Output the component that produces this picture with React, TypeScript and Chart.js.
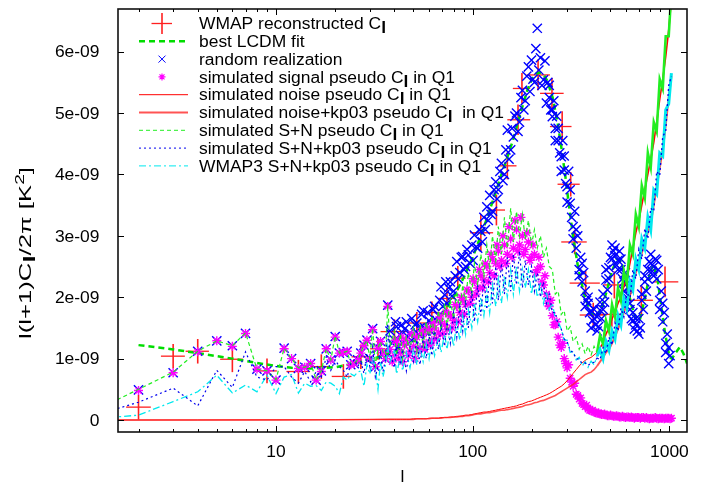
import React, { useEffect, useRef } from 'react';
import { Chart, registerables } from 'chart.js';

Chart.register(...registerables);

// ---------- axis ranges (y in units of 1e-9 K^2) ----------
const X_MIN = 1.573;
const X_MAX = 1229;
const Y_MIN = -0.195;
const Y_MAX = 6.694;
const Y_TICKS = [0, 1, 2, 3, 4, 5, 6];
const Y_TICK_LABELS = ['0', '1e-09', '2e-09', '3e-09', '4e-09', '5e-09', '6e-09'];
const X_TICKS = [10, 100, 1000];
const X_TICK_LABELS = ['10', '100', '1000'];

// ---------- WMAP reconstructed C_l (binned, with error bars) ----------
const WMAP_L = [2, 3, 4, 6, 9, 13, 17, 22, 27, 33, 40, 52, 62, 74, 84, 110, 132, 150, 170, 178, 215, 253, 285, 315, 330, 375, 410, 510, 525, 720, 950];
const WMAP_LO = [1.73, 2.6, 3.47, 5.2, 8, 11.3, 15, 19.2, 24.2, 30.1, 34, 46, 56, 67, 77, 97, 120, 135, 150, 160, 188, 220, 247, 270, 282, 311, 350, 443, 460, 630, 825];
const WMAP_HI = [2.31, 3.44, 4.56, 6.8, 10.1, 14.9, 18.8, 24.2, 30.1, 36, 46, 60, 68, 82, 92, 127, 146, 167, 196, 196, 247, 290, 318, 350, 380, 443, 480, 582, 600, 825, 1110];
const WMAP_VAL = [0.21, 1.04, 1.12, 0.99, 0.80, 0.79, 0.87, 0.71, 1.03, 1.16, 1.44, 1.58, 1.75, 1.98, 2.31, 3.05, 3.42, 4.14, 4.89, 5.40, 5.62, 5.32, 4.78, 3.84, 2.90, 2.23, 1.71, 1.72, 2.20, 1.95, 2.25];
const WMAP_ERR = [0.20, 0.20, 0.20, 0.21, 0.20, 0.19, 0.20, 0.20, 0.20, 0.18, 0.20, 0.18, 0.18, 0.18, 0.20, 0.30, 0.25, 0.22, 0.25, 0.25, 0.25, 0.25, 0.25, 0.20, 0.20, 0.20, 0.20, 0.20, 0.22, 0.25, 0.25];

// ---------- best LCDM fit ----------
const L_CDM = [2, 3, 4, 5, 6, 8, 10, 12, 15, 20, 25, 30, 35, 40, 50, 60, 70, 80, 90, 100, 110, 120, 130, 140, 150, 160, 175, 190, 200, 210, 220, 230, 240, 255, 270, 280, 295, 310, 325, 345, 370, 400, 420, 450, 480, 510, 540, 570, 600, 640, 680, 710, 750, 800, 830, 870, 910, 950, 1000, 1030, 1080, 1130, 1180, 1230];
const CDM = [1.22, 1.15, 1.09, 1.04, 1.00, 0.93, 0.88, 0.85, 0.84, 0.86, 0.92, 0.98, 1.05, 1.12, 1.28, 1.48, 1.72, 2.00, 2.32, 2.65, 3.00, 3.35, 3.68, 4.00, 4.28, 4.55, 5.00, 5.38, 5.55, 5.64, 5.66, 5.62, 5.52, 5.25, 4.85, 4.52, 4.00, 3.45, 2.95, 2.45, 2.03, 1.74, 1.68, 1.80, 2.10, 2.42, 2.62, 2.58, 2.30, 1.88, 1.62, 1.65, 1.98, 2.42, 2.52, 2.30, 1.85, 1.42, 1.03, 1.00, 1.10, 1.19, 1.08, 0.92];

// ---------- low multipoles l = 1..37 ----------
const L_LOW = [1, 2, 3, 4, 5, 6, 7, 8, 9, 10, 11, 12, 13, 14, 15, 16, 17, 18, 19, 20, 21, 22, 23, 24, 25, 26, 27, 28, 29, 30, 31, 32, 33, 34, 35, 36, 37];
const REAL_LOW = [null, 0.49, 0.77, 1.12, 1.29, 1.21, 1.41, 0.83, 0.80, 0.65, 1.17, 1.00, 0.84, 0.86, 0.92, 0.65, 0.80, 1.16, 0.98, 1.36, 1.09, 1.10, 1.12, 0.90, 0.92, 0.98, 1.09, 1.22, 1.30, 1.00, 1.49, 0.87, 1.17, 1.28, 1.10, 1.00, 1.87];
const SIG_LOW = [null, 0.48, 0.77, 1.11, 1.29, 1.20, 1.41, 0.83, 0.80, 0.65, 1.16, 1.00, 0.84, 0.86, 0.92, 0.65, 0.79, 1.16, 0.98, 1.35, 1.09, 1.10, 1.12, 0.90, 0.92, 0.98, 1.09, 1.21, 1.30, 1.00, 1.47, 0.87, 1.17, 1.28, 1.10, 1.00, 1.85];
const SN_LOW = [0.03, 0.50, 0.78, 1.12, 1.29, 1.21, 1.42, 0.83, 0.80, 0.66, 1.17, 1.00, 0.85, 0.86, 0.93, 0.65, 0.80, 1.16, 0.98, 1.37, 1.09, 1.10, 1.12, 0.91, 0.92, 0.98, 1.09, 1.23, 1.30, 1.00, 1.50, 0.88, 1.17, 1.28, 1.11, 1.01, 1.88];
const SNK_LOW = [0.0, 0.29, 0.52, 0.23, 0.81, 0.53, 1.11, 0.70, 0.65, 0.87, 0.87, 0.70, 0.60, 0.79, 0.62, 0.79, 0.70, 1.03, 0.81, 0.98, 0.87, 0.81, 0.70, 0.92, 0.98, 0.87, 0.95, 0.76, 1.09, 0.87, 1.19, 0.70, 0.87, 1.09, 0.79, 0.98, 1.57];
const W3_LOW = [0.0, 0.08, 0.30, 0.46, 0.73, 0.44, 0.57, 0.46, 0.73, 0.43, 0.70, 0.74, 0.44, 0.60, 0.55, 0.56, 0.48, 0.62, 0.60, 0.55, 0.43, 0.70, 0.65, 0.75, 0.72, 0.78, 0.80, 0.55, 0.90, 0.75, 1.00, 0.85, 0.50, 0.95, 0.70, 0.90, 1.20];
const L_NOISE_LOW = [1, 4, 10, 20, 30];
const NOISE_LOW = [0.0, 0.001, 0.003, 0.006, 0.009];
const NOISEK_LOW = [0.0, 0.001, 0.002, 0.005, 0.008];

// ---------- higher multipoles (sampled) ----------
const L_GRID = [38, 40, 41, 43, 44, 46, 48, 50, 52, 54, 56, 58, 60, 62, 64, 67, 69, 72, 74, 77, 80, 83, 86, 89, 92, 95, 99, 102, 106, 110, 114, 118, 122, 126, 131, 135, 140, 145, 150, 156, 161, 167, 173, 179, 185, 192, 199, 206, 213, 221, 229, 237, 245, 254, 263, 272, 282, 292, 302, 313, 324, 336, 348, 360, 373, 386, 400, 414, 429, 444, 460, 476, 493, 511, 529, 548, 567, 587, 608, 630, 652, 675, 699, 724, 750, 777, 804, 833, 862, 893, 925, 958, 992, 1024];
const L_MID = [39, 40.5, 42, 43.5, 45, 47, 49, 51, 53, 55, 57, 59, 61, 63, 65.5, 68, 70.5, 73, 75.5, 78.5, 81.5, 84.5, 87.5, 90.5, 93.5, 97, 100.5, 104, 108, 112, 116, 120, 124, 128.5, 133, 137.5, 142.5, 147.5, 153, 158.5, 164, 170, 176, 182, 188.5, 195.5, 202.5, 209.5, 217, 225, 233, 241, 249.5, 258.5, 267.5, 277, 287, 297, 307.5, 318.5, 330, 342, 354, 366.5, 379.5, 393, 407, 421.5, 436.5, 452, 468, 484.5, 502, 520, 538.5, 557.5, 577, 597.5, 619, 641, 663.5, 687, 711.5, 737, 763.5, 790.5, 818.5, 847.5, 877.5, 909, 941.5, 975, 1008];
const L_HI = [245, 254, 263, 272, 282, 292, 302, 313, 324, 336, 348, 360, 373, 386, 400, 414, 429, 444, 460, 476, 493, 511, 529, 548, 567, 587, 608, 630, 652, 675, 699, 724, 750, 777, 804, 833, 862, 893, 925, 958, 992];
const REAL_A = [1.45, 1.30, 1.52, 1.38, 1.25, 1.60, 1.42, 1.33, 1.58, 1.50,
  1.78, 1.45, 1.62, 1.55, 1.85, 1.70, 2.17, 2.04, 1.90, 2.25,
  2.10, 2.58, 2.40, 2.66, 2.50, 2.69, 2.85, 3.01, 2.80, 3.07,
  3.30, 3.47, 3.66, 3.40, 3.88, 3.75, 4.18, 4.00, 4.72, 4.40,
  4.61, 5.00, 4.85, 5.37, 5.20, 5.75, 5.86, 5.50, 6.38, 5.90,
  5.54, 5.16, 5.45, 4.94, 4.75, 4.55, 4.29, 4.07, 3.80, 3.53,
  3.15, 2.80, 2.45, 2.25, 2.10, 1.90, 1.78, 1.65, 1.68, 1.79,
  2.05, 2.28, 2.48, 2.62, 2.68, 2.60, 2.45, 2.25, 2.00, 1.80,
  1.62, 1.55, 1.65, 1.95, 2.25, 2.45, 2.55, 2.50, 2.30, 1.95,
  1.60, 1.25, 0.92, null];
const REAL_B = [1.25, 1.60, 1.20, 1.55, 1.48, 1.35, 1.65, 1.55, 1.40, 1.72,
  1.50, 1.75, 1.45, 1.80, 1.62, 1.95, 1.85, 2.25, 2.15, 2.02,
  2.35, 2.30, 2.65, 2.45, 2.78, 2.55, 2.60, 2.82, 3.10, 2.90,
  3.10, 3.25, 3.35, 3.75, 3.60, 4.05, 3.90, 4.40, 4.25, 4.75,
  4.95, 4.70, 5.25, 5.05, 5.60, 5.35, 5.55, 6.05, 5.70, 5.45,
  5.85, 5.50, 5.05, 5.20, 4.95, 4.35, 4.55, 3.85, 4.05, 3.30,
  3.40, 3.00, 2.65, 2.40, 1.95, 1.75, 1.62, 1.55, 1.52, 1.65,
  1.92, 2.12, 2.65, 2.75, 2.52, 2.75, 2.30, 2.40, 2.15, 1.65,
  1.48, 1.45, 1.50, 1.80, 2.10, 2.58, 2.42, 2.62, 2.45, 2.10,
  1.75, 1.40, 1.05];
const REAL_C = [5.25, 5.05, 4.55, 4.75, 4.05, 4.30, 3.55, 3.75, 2.95, 3.10,
  2.35, 2.55, 1.85, 2.00, 1.50, 1.80, 1.45, 1.92, 1.80, 2.45,
  2.30, 2.85, 2.80, 2.45, 2.62, 2.10, 2.22, 1.90, 1.75, 1.65,
  1.40, 2.05, 2.35, 2.30, 2.70, 2.35, 2.60, 1.80, 1.90, 1.10,
  1.18];
const SIG_A = [1.15, 1.05, 1.25, 1.10, 0.95, 1.30, 1.12, 1.20, 1.35, 1.18,
  1.40, 1.25, 1.45, 1.30, 1.50, 1.42, 1.60, 1.55, 1.48, 1.70,
  1.62, 1.85, 1.75, 1.95, 1.88, 2.10, 2.00, 2.25, 2.15, 2.35,
  2.28, 2.50, 2.40, 2.62, 2.55, 2.75, 2.60, 2.85, 2.70, 2.95,
  2.80, 3.10, 2.85, 3.00, 2.78, 2.90, 2.65, 2.70, 2.45, 2.50,
  2.20, 2.05, 1.85, 1.70, 1.55, 1.35, 1.18, 1.00, 0.85, 0.68,
  0.55, 0.42, 0.34, 0.27, 0.22, 0.18, 0.15, 0.13, 0.11, 0.10,
  0.09, 0.08, 0.07, 0.07, 0.06, 0.06, 0.05, 0.05, 0.05, 0.04,
  0.04, 0.04, 0.04, 0.04, 0.03, 0.03, 0.03, 0.03, 0.03, 0.03,
  0.03, 0.03, 0.03, 0.03];
const SIG_B = [0.95, 1.30, 1.00, 1.35, 1.22, 1.05, 1.40, 1.00, 1.12, 1.45,
  1.15, 1.50, 1.22, 1.58, 1.32, 1.68, 1.40, 1.75, 1.72, 1.50,
  1.88, 1.60, 2.00, 1.72, 2.12, 1.90, 2.30, 2.05, 2.45, 2.15,
  2.55, 2.25, 2.70, 2.35, 2.85, 2.50, 3.00, 2.55, 3.15, 2.65,
  3.25, 2.75, 3.30, 2.70, 3.05, 2.60, 2.85, 2.40, 2.65, 2.25,
  2.35, 1.90, 1.95, 1.55, 1.60, 1.22, 1.25, 0.92, 0.90, 0.62,
  0.60, 0.40, 0.36, 0.25, 0.24, 0.16, 0.16, 0.12, 0.12, 0.09,
  0.10, 0.07, 0.08, 0.06, 0.07, 0.05, 0.06, 0.04, 0.05, 0.05,
  0.03, 0.04, 0.03, 0.04, 0.04, 0.02, 0.03, 0.04, 0.02, 0.03,
  0.02, 0.03, 0.02];
const NOISE = [0.01, 0.01, 0.01, 0.01, 0.01, 0.01, 0.01, 0.02, 0.02, 0.02,
  0.02, 0.02, 0.03, 0.03, 0.03, 0.03, 0.04, 0.04, 0.04, 0.05,
  0.05, 0.06, 0.06, 0.07, 0.08, 0.08, 0.09, 0.10, 0.11, 0.12,
  0.13, 0.13, 0.14, 0.15, 0.16, 0.17, 0.18, 0.19, 0.20, 0.21,
  0.22, 0.23, 0.25, 0.26, 0.28, 0.30, 0.31, 0.33, 0.35, 0.37,
  0.39, 0.41, 0.43, 0.46, 0.49, 0.52, 0.55, 0.59, 0.64, 0.70,
  0.76, 0.82, 0.88, 0.93, 0.97, 1.00, 1.02, 1.06, 1.10, 1.18,
  1.25, 1.40, 1.50, 1.65, 1.75, 1.90, 2.00, 2.18, 2.30, 2.55,
  2.80, 3.05, 3.25, 3.50, 3.75, 4.00, 4.25, 4.52, 4.85, 5.22,
  5.55, 5.92, 6.35, 6.85];
const NOISEK = [0.01, 0.01, 0.01, 0.01, 0.01, 0.01, 0.01, 0.01, 0.02, 0.02,
  0.02, 0.02, 0.02, 0.03, 0.03, 0.03, 0.03, 0.04, 0.04, 0.04,
  0.05, 0.05, 0.06, 0.06, 0.07, 0.07, 0.08, 0.09, 0.10, 0.10,
  0.11, 0.12, 0.12, 0.13, 0.14, 0.15, 0.16, 0.16, 0.17, 0.18,
  0.19, 0.20, 0.21, 0.22, 0.24, 0.25, 0.26, 0.28, 0.29, 0.31,
  0.32, 0.34, 0.36, 0.38, 0.40, 0.43, 0.46, 0.49, 0.52, 0.55,
  0.58, 0.62, 0.66, 0.70, 0.74, 0.76, 0.78, 0.82, 0.88, 0.95,
  1.02, 1.10, 1.15, 1.25, 1.36, 1.48, 1.62, 1.75, 1.90, 2.02,
  2.22, 2.40, 2.55, 2.72, 2.90, 3.05, 3.20, 3.50, 3.80, 4.10,
  4.40, 4.80, 5.25, 5.60];
const SN = [1.20, 1.45, 1.05, 1.40, 1.00, 1.35, 1.15, 1.50, 1.10, 1.55,
  1.20, 1.60, 1.30, 1.70, 1.35, 1.78, 1.45, 1.90, 1.50, 1.95,
  1.65, 2.10, 1.75, 2.20, 1.90, 2.40, 2.05, 2.55, 2.20, 2.70,
  2.35, 2.85, 2.45, 3.00, 2.60, 3.15, 2.70, 3.30, 2.80, 3.45,
  2.90, 3.40, 3.00, 3.35, 2.95, 3.25, 2.85, 3.10, 2.80, 3.00,
  2.65, 2.80, 2.50, 2.45, 2.05, 2.10, 1.72, 1.78, 1.45, 1.52,
  1.28, 1.35, 1.15, 1.24, 1.08, 1.20, 1.06, 1.20, 1.10, 1.38,
  1.24, 1.62, 1.45, 1.88, 1.68, 2.15, 1.95, 2.42, 2.22, 2.85,
  2.70, 3.35, 3.15, 3.82, 3.62, 4.35, 4.12, 4.85, 4.70, 5.55,
  5.40, 6.25, 6.25, 7.00];
const SNK = [1.10, 0.85, 1.20, 0.90, 1.15, 0.80, 1.20, 0.95, 1.30, 0.90,
  1.35, 1.00, 1.40, 1.05, 1.45, 1.15, 1.55, 1.20, 1.60, 1.25,
  1.75, 1.35, 1.85, 1.45, 1.95, 1.50, 2.10, 1.60, 2.20, 1.70,
  2.30, 1.80, 2.40, 1.90, 2.50, 1.95, 2.55, 2.05, 2.65, 2.10,
  2.70, 2.20, 2.75, 2.15, 2.60, 2.20, 2.50, 2.10, 2.40, 2.00,
  2.25, 1.90, 2.05, 1.75, 1.75, 1.55, 1.48, 1.32, 1.28, 1.13,
  1.10, 1.00, 0.99, 0.92, 0.93, 0.89, 0.93, 0.94, 1.01, 0.98,
  1.18, 1.08, 1.35, 1.22, 1.58, 1.45, 1.82, 1.68, 2.10, 1.95,
  2.45, 2.30, 2.78, 2.62, 3.12, 2.95, 3.45, 3.40, 4.05, 3.98,
  4.62, 4.70, 5.45, 5.60];
const W3 = [0.95, 1.15, 0.75, 1.05, 0.80, 1.10, 0.85, 1.15, 0.90, 1.20,
  0.95, 1.25, 1.00, 1.30, 1.05, 1.35, 1.10, 1.40, 1.15, 1.50,
  1.20, 1.60, 1.30, 1.70, 1.40, 1.80, 1.50, 1.90, 1.60, 2.00,
  1.70, 2.10, 1.75, 2.20, 1.85, 2.30, 1.90, 2.35, 2.00, 2.45,
  2.05, 2.50, 2.10, 2.45, 2.15, 2.45, 2.05, 2.35, 2.00, 2.25,
  1.90, 2.10, 1.80, 1.90, 1.65, 1.60, 1.48, 1.30, 1.30, 1.10,
  1.12, 0.98, 1.02, 0.88, 0.95, 0.86, 0.96, 0.90, 1.04, 1.15,
  1.00, 1.28, 1.14, 1.45, 1.32, 1.70, 1.55, 1.98, 1.82, 2.25,
  2.12, 2.62, 2.45, 2.95, 2.80, 3.30, 3.10, 3.75, 3.68, 4.35,
  4.30, 5.05, 5.15, 5.65];

// ---------- text ----------
type Part = { t: string; k?: 'sub' | 'sup' };
const LEGEND_LABELS: Part[][] = [
  [{ t: 'WMAP reconstructed C' }, { t: 'l', k: 'sub' }],
  [{ t: 'best LCDM fit' }],
  [{ t: 'random realization' }],
  [{ t: 'simulated signal pseudo C' }, { t: 'l', k: 'sub' }, { t: ' in Q1' }],
  [{ t: 'simulated noise pseudo C' }, { t: 'l', k: 'sub' }, { t: ' in Q1' }],
  [{ t: 'simulated noise+kp03 pseudo C' }, { t: 'l', k: 'sub' }, { t: '  in Q1' }],
  [{ t: 'simulated S+N pseudo C' }, { t: 'l', k: 'sub' }, { t: ' in Q1' }],
  [{ t: 'simulated S+N+kp03 pseudo C' }, { t: 'l', k: 'sub' }, { t: ' in Q1' }],
  [{ t: 'WMAP3 S+N+kp03 pseudo C' }, { t: 'l', k: 'sub' }, { t: ' in Q1' }],
];
const Y_TITLE: Part[] = [{ t: 'l(l+1)C' }, { t: 'l', k: 'sub' }, { t: '/2\u03c0 [K' }, { t: '2', k: 'sup' }, { t: ']' }];
const X_TITLE = 'l';

// ---------- styles ----------
const FONT = "'Liberation Sans', Arial, Helvetica, sans-serif";
const FS = 16;
const SX = 1.09;
const C_WMAP = '#ff2020';
const C_CDM = '#00dd00';
const C_REAL = '#0000ff';
const C_SIG = '#ff00ff';
const C_NOISE = '#ff0000';
const C_NOISEK = 'rgba(255,40,40,0.8)';
const C_SN = '#22ee22';
const C_SNK = '#0000ee';
const C_W3 = '#00e8ee';
const DASH_CDM = [6, 4];
const DASH_SN = [4, 3];
const DASH_SNK = [2, 3];
const DASH_W3 = [7, 3, 2, 3];

function pts(ls: number[], vs: (number | null)[]) {
  const out: { x: number; y: number }[] = [];
  ls.forEach((l, i) => {
    const v = vs[i];
    if (v !== null && v !== undefined) out.push({ x: l, y: v });
  });
  return out;
}

function partFont(p: Part, size: number) {
  if (p.k === 'sub') return `bold ${size}px ${FONT}`;
  if (p.k === 'sup') return `${Math.round(size * 0.72)}px ${FONT}`;
  return `${size}px ${FONT}`;
}
function measureRich(ctx: CanvasRenderingContext2D, parts: Part[], size: number) {
  let w = 0;
  for (const p of parts) {
    ctx.font = partFont(p, size);
    w += ctx.measureText(p.t).width;
  }
  return w;
}
function drawRich(ctx: CanvasRenderingContext2D, parts: Part[], x: number, y: number, size: number, align: string, sx: number) {
  const total = measureRich(ctx, parts, size) * sx;
  let cx = align === 'left' ? x : align === 'right' ? x - total : x - total / 2;
  ctx.textAlign = 'left';
  ctx.textBaseline = 'alphabetic';
  for (const p of parts) {
    ctx.font = partFont(p, size);
    const w = ctx.measureText(p.t).width * sx;
    const dy = p.k === 'sub' ? 4 : p.k === 'sup' ? -7 : 0;
    ctx.save();
    ctx.translate(cx, y + dy);
    ctx.scale(sx, 1);
    ctx.fillText(p.t, 0, 0);
    ctx.restore();
    cx += w;
  }
}

const errorBarsPlugin = {
  id: 'wmapErrorBars',
  beforeDatasetsDraw(chart: any) {
    const { ctx, chartArea } = chart;
    const xs = chart.scales.x;
    const ys = chart.scales.y;
    ctx.save();
    ctx.beginPath();
    ctx.rect(chartArea.left, chartArea.top, chartArea.right - chartArea.left, chartArea.bottom - chartArea.top);
    ctx.clip();
    ctx.strokeStyle = C_WMAP;
    for (let i = 0; i < WMAP_L.length; i++) {
      const y = ys.getPixelForValue(WMAP_VAL[i]);
      const x0 = xs.getPixelForValue(WMAP_LO[i]);
      const x1 = xs.getPixelForValue(WMAP_HI[i]);
      const xc = xs.getPixelForValue(WMAP_L[i]);
      const ya = ys.getPixelForValue(WMAP_VAL[i] - WMAP_ERR[i]);
      const yb = ys.getPixelForValue(WMAP_VAL[i] + WMAP_ERR[i]);
      ctx.lineWidth = 1.3;
      ctx.beginPath();
      ctx.moveTo(x0, y);
      ctx.lineTo(x1, y);
      ctx.stroke();
      ctx.lineWidth = 1.6;
      ctx.beginPath();
      ctx.moveTo(xc, ya);
      ctx.lineTo(xc, yb);
      ctx.stroke();
    }
    ctx.restore();
  },
};

function sampleLine(ctx: CanvasRenderingContext2D, y: number, color: string, width: number, dash: number[]) {
  ctx.save();
  ctx.strokeStyle = color;
  ctx.lineWidth = width;
  ctx.setLineDash(dash);
  ctx.beginPath();
  ctx.moveTo(139, y);
  ctx.lineTo(188, y);
  ctx.stroke();
  ctx.restore();
}

const framePlugin = {
  id: 'gnuFrame',
  afterDraw(chart: any) {
    const { ctx, chartArea } = chart;
    const { left, right, top, bottom } = chartArea;
    const xs = chart.scales.x;
    const ys = chart.scales.y;
    ctx.save();
    // frame
    ctx.strokeStyle = '#111';
    ctx.lineWidth = 1.6;
    ctx.setLineDash([]);
    ctx.strokeRect(left, top, right - left, bottom - top);
    // ticks
    ctx.lineWidth = 1;
    ctx.strokeStyle = '#000';
    ctx.beginPath();
    for (const v of Y_TICKS) {
      const y = Math.round(ys.getPixelForValue(v)) + 0.5;
      ctx.moveTo(left, y); ctx.lineTo(left + 6, y);
      ctx.moveTo(right, y); ctx.lineTo(right - 6, y);
    }
    for (const d of [1, 10, 100, 1000]) {
      for (let m = 1; m <= 9; m++) {
        const v = d * m;
        if (v < X_MIN || v > X_MAX) continue;
        const major = m === 1;
        const len = major ? 6 : 3;
        const x = Math.round(xs.getPixelForValue(v)) + 0.5;
        ctx.moveTo(x, bottom); ctx.lineTo(x, bottom - len);
        ctx.moveTo(x, top); ctx.lineTo(x, top + len);
      }
    }
    ctx.stroke();
    // tick labels
    ctx.fillStyle = '#000';
    Y_TICKS.forEach((v, i) => {
      const y = ys.getPixelForValue(v);
      drawRich(ctx, [{ t: Y_TICK_LABELS[i] }], 99.5, y + 5.7, FS, 'right', SX);
    });
    X_TICKS.forEach((v, i) => {
      const x = xs.getPixelForValue(v);
      drawRich(ctx, [{ t: X_TICK_LABELS[i] }], x, 456.7, FS, 'center', SX);
    });
    // axis titles
    drawRich(ctx, [{ t: X_TITLE }], (left + right) / 2, 482, FS, 'center', SX);
    ctx.save();
    ctx.translate(25.5, 253);
    ctx.rotate(-Math.PI / 2);
    const natural = measureRich(ctx, Y_TITLE, FS);
    drawRich(ctx, Y_TITLE, 0, 5.7, FS, 'center', 172 / natural);
    ctx.restore();
    // legend
    LEGEND_LABELS.forEach((parts, i) => {
      const cy = 23.5 + 17.8 * i;
      drawRich(ctx, parts, 199, cy + 5.7, FS, 'left', SX);
    });
    const ly = (i: number) => 23.5 + 17.8 * i;
    // 0: WMAP cross
    ctx.strokeStyle = C_WMAP;
    ctx.lineWidth = 1.3;
    ctx.beginPath(); ctx.moveTo(151.5, ly(0)); ctx.lineTo(172, ly(0)); ctx.stroke();
    ctx.lineWidth = 1.6;
    ctx.beginPath(); ctx.moveTo(162, ly(0) - 10.5); ctx.lineTo(162, ly(0) + 10.5); ctx.stroke();
    sampleLine(ctx, ly(1), C_CDM, 2.5, DASH_CDM);
    // 2: blue X
    ctx.strokeStyle = C_REAL; ctx.lineWidth = 1;
    ctx.beginPath();
    ctx.moveTo(158.5, ly(2) - 3.5); ctx.lineTo(165.5, ly(2) + 3.5);
    ctx.moveTo(158.5, ly(2) + 3.5); ctx.lineTo(165.5, ly(2) - 3.5);
    ctx.stroke();
    // 3: magenta star
    ctx.strokeStyle = C_SIG; ctx.lineWidth = 1.2;
    ctx.beginPath();
    ctx.moveTo(158.5, ly(3)); ctx.lineTo(165.5, ly(3));
    ctx.moveTo(162, ly(3) - 3.5); ctx.lineTo(162, ly(3) + 3.5);
    ctx.moveTo(159.5, ly(3) - 2.5); ctx.lineTo(164.5, ly(3) + 2.5);
    ctx.moveTo(159.5, ly(3) + 2.5); ctx.lineTo(164.5, ly(3) - 2.5);
    ctx.stroke();
    sampleLine(ctx, ly(4), C_NOISE, 1, []);
    sampleLine(ctx, ly(5), C_NOISEK, 2, []);
    sampleLine(ctx, ly(6), C_SN, 1, DASH_SN);
    sampleLine(ctx, ly(7), C_SNK, 1, DASH_SNK);
    sampleLine(ctx, ly(8), C_W3, 1, DASH_W3);
    ctx.restore();
  },
};

const solidHighL = (ctx: any) => (ctx.p0.parsed.x > 420 ? [] : undefined);
const wideHighL = (w: number) => (ctx: any) => (ctx.p0.parsed.x > 420 ? w : undefined);

export default function App() {
  const ref = useRef<HTMLCanvasElement>(null);
  useEffect(() => {
    document.body.style.margin = '0';
    const canvas = ref.current;
    if (!canvas) return;
    const line = (data: any[], color: string, width: number, dash: number[], order: number, hiWidth = 0, hiSolid = true) => ({
      type: 'line',
      data,
      borderColor: color,
      borderWidth: width,
      borderDash: dash,
      pointRadius: 0,
      fill: false,
      tension: 0,
      order,
      ...(hiWidth ? { segment: { borderDash: hiSolid ? solidHighL : undefined, borderWidth: wideHighL(hiWidth) } } : {}),
    });
    const marks = (data: any[], style: string, radius: number, color: string, width: number, order: number) => ({
      type: 'line',
      data,
      showLine: false,
      pointStyle: style,
      pointRadius: radius,
      pointBorderColor: color,
      pointBackgroundColor: color,
      pointBorderWidth: width,
      order,
    });
    const chart = new Chart(canvas, {
      type: 'line',
      data: {
        datasets: [
          line(pts(L_CDM, CDM), C_CDM, 2.5, DASH_CDM, 20),
          marks(pts(L_LOW, REAL_LOW).concat(pts(L_GRID, REAL_A)), 'crossRot', 6.5, C_REAL, 1.4, 19),
          marks(pts(L_MID, REAL_B), 'crossRot', 6.5, C_REAL, 1.4, 18),
          marks(pts(L_HI, REAL_C), 'crossRot', 6.5, C_REAL, 1.4, 18),
          marks(pts(L_LOW, SIG_LOW).concat(pts(L_GRID, SIG_A)), 'star', 4.5, C_SIG, 1.4, 17),
          marks(pts(L_MID, SIG_B), 'star', 4.5, C_SIG, 1.4, 16),
          line(pts(L_NOISE_LOW, NOISE_LOW).concat(pts(L_GRID, NOISE)), C_NOISE, 1, [], 15, 1.6),
          line(pts(L_NOISE_LOW, NOISEK_LOW).concat(pts(L_GRID, NOISEK)), C_NOISEK, 1.6, [], 14, 2),
          line(pts(L_LOW, SN_LOW).concat(pts(L_GRID, SN)), C_SN, 1.2, DASH_SN, 13, 2.6),
          line(pts(L_LOW, SNK_LOW).concat(pts(L_GRID, SNK)), C_SNK, 1.2, DASH_SNK, 11, 1.3, false),
          line(pts(L_LOW, W3_LOW).concat(pts(L_GRID, W3)), C_W3, 1.3, DASH_W3, 12, 3),
        ] as any,
      },
      options: {
        animation: false,
        responsive: false,
        devicePixelRatio: 1,
        events: [],
        layout: { padding: { left: 118, right: 19, top: 9, bottom: 51 } },
        plugins: { legend: { display: false }, tooltip: { enabled: false }, title: { display: false } },
        scales: {
          x: { type: 'logarithmic', min: X_MIN, max: X_MAX, display: false },
          y: { type: 'linear', min: Y_MIN, max: Y_MAX, display: false },
        },
      },
      plugins: [errorBarsPlugin, framePlugin],
    } as any);
    return () => chart.destroy();
  }, []);
  return (
    <div style={{ position: 'absolute', left: 0, top: 0, width: 706, height: 483, background: '#fff' }}>
      <canvas ref={ref} width={706} height={483} style={{ display: 'block', width: 706, height: 483 }} />
    </div>
  );
}
